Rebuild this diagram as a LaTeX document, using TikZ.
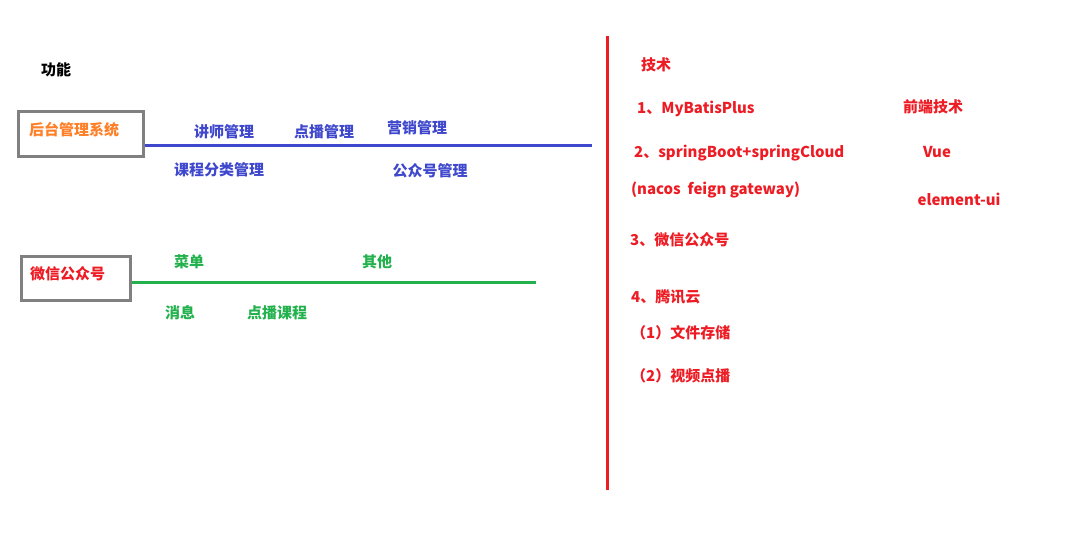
\documentclass[tikz,border=0pt]{standalone}
\usepackage{fontspec}
\setmainfont{Noto Sans CJK SC}
\usepackage{tikz}
\usetikzlibrary{positioning}
\usepackage{xcolor}
\definecolor{mblue}{HTML}{3F48CC}
\definecolor{morange}{HTML}{FF7F27}
\definecolor{mgreen}{HTML}{22B14C}
\definecolor{mred}{HTML}{ED1C24}

\begin{document}
\begin{tikzpicture}[x=1pt, y=-1pt, every node/.style={inner sep=0pt, font=\fontsize{15}{17}\selectfont\bfseries},
    sysbox/.style={draw=gray, line width=3pt, minimum width=125pt, minimum height=45pt},
    lefttext/.style={anchor=west}]
    \useasboundingbox (0,0) rectangle (1083,537);

    % Left side: functions
    \node (func) at (56,70) {功能};

    \node[sysbox] (admin) at (80.5,134.5) {};
    \node[lefttext, text=morange] (admintxt) at (29,130) {后台管理系统};
    \coordinate (blueend) at (592,146);
    \draw[mblue, line width=3pt] (admin.east |- blueend) -- (blueend);

    \begin{scope}[text=mblue]
        \node (teacher) at (224,132) {讲师管理};
        \node (vod) at (324,132) {点播管理};
        \node (market) at (417,128) {营销管理};
        \node (subject) at (219,170) {课程分类管理};
        \node (mpadmin) at (430,171) {公众号管理};
    \end{scope}

    \node[sysbox, minimum width=109pt, minimum height=44pt] (wechat) at (75.5,278) {};
    \node[lefttext, text=mred] (wechattxt) at (30,274) {微信公众号};
    \coordinate (greenend) at (536,282);
    \draw[mgreen, line width=3pt] (wechat.east |- greenend) -- (greenend);

    \begin{scope}[text=mgreen]
        \node (menu) at (189,262) {菜单};
        \node (other) at (377,262) {其他};
        \node (msg) at (180,313) {消息};
        \node (course) at (277,313) {点播课程};
    \end{scope}

    % Divider
    \coordinate (redtop) at (607,36);
    \coordinate (redbot) at (607,490);
    \draw[mred, line width=3pt] (redtop) -- (redbot);

    % Right side: technology
    \begin{scope}[text=mred]
        \node (tech) at (656,65) {技术};
        \node[lefttext] (t1) at (637,109) {1、MyBatisPlus};
        \node[lefttext] (t2) at (634,153) {2、springBoot+springCloud};
        \node[lefttext] (t2b) at (631,190) {(nacos\ \ feign gateway)};
        \node[lefttext] (t3) at (630,240) {3、微信公众号};
        \node[lefttext] (t4) at (631,297) {4、腾讯云};
        \node[lefttext] (t41) at (631,333) {（1）文件存储};
        \node[lefttext] (t42) at (631,376) {（2）视频点播};
        \node (front) at (933,107) {前端技术};
        \node (vue) at (937,152) {Vue};
        \node (elem) at (959,199) {element-ui};
    \end{scope}
\end{tikzpicture}
\end{document}
